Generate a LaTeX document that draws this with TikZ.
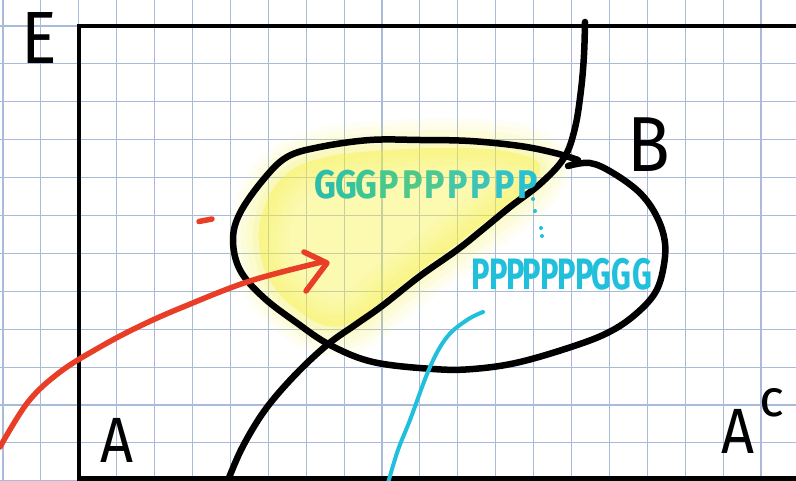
\documentclass[tikz,border=0pt]{standalone}
\usepackage{fontspec}
\setmainfont{Fira Sans}
\definecolor{gridc}{RGB}{170,187,218}
\definecolor{yel}{RGB}{248,240,50}
\definecolor{redc}{RGB}{232,62,40}
\definecolor{cyanc}{RGB}{32,192,220}
\definecolor{g1}{RGB}{44,190,170}
\definecolor{g2}{RGB}{52,194,160}
\definecolor{g3}{RGB}{60,198,150}
\definecolor{p1}{RGB}{72,200,140}
\definecolor{p2}{RGB}{80,200,136}
\definecolor{p3}{RGB}{76,200,150}
\definecolor{p4}{RGB}{68,198,168}
\definecolor{p5}{RGB}{60,196,184}
\definecolor{p6}{RGB}{50,194,200}
\definecolor{p7}{RGB}{42,192,212}
\begin{document}
\begin{tikzpicture}[x=1pt,y=-1pt,
  gridline/.style={gridc,line width=1.1pt},
  ink/.style={black,line width=6.5pt,line cap=round,line join=round},
  frame/.style={black,line width=4.5pt},
  redline/.style={redc,line width=5.5pt,line cap=round,line join=round},
  cyanline/.style={cyanc,line width=4pt,line cap=round},
  bigletter/.style={inner sep=0pt,text=black},
  glyph/.style={inner sep=0pt,anchor=base}]
\useasboundingbox (0,0) rectangle (796,481);
\fill[white] (0,0) rectangle (796,481);
% grid
\foreach \i in {0,...,20} \draw[gridline] ({3+37.9*\i},0) -- ({3+37.9*\i},481);
\foreach \j in {0,...,12} \draw[gridline] (0,{26+37.9*\j}) -- (796,{26+37.9*\j});
% yellow highlight (soft)
\def\yelpath{plot[smooth cycle,tension=0.7] coordinates {(262,215) (282,178) (322,158) (390,150) (460,148) (515,153) (540,166) (525,190) (495,214) (455,245) (418,272) (385,298) (358,320) (328,326) (297,310) (272,284) (260,252)}}
\foreach \w/\o in {60/0.05,48/0.06,36/0.07,24/0.08,12/0.1}
  \draw[yel,line width=\w pt,opacity=\o,line join=round] \yelpath;
\fill[yel,opacity=0.38] \yelpath;
% frame
\draw[frame] (800,26) -- (79,26) -- (79,478.5) -- (800,478.5);
% A boundary curve
\draw[ink] plot[smooth,tension=0.6] coordinates {(227,483) (242,448) (265,410) (295,375) (327,345) (355,325) (382,306) (420,276) (457,250) (482,230) (510,207) (540,184) (564,158) (575,128) (581,90) (584,55) (585,22)};
% B boundary
\draw[ink] plot[smooth,tension=0.6] coordinates {(578,160) (555,153) (520,146) (470,141) (420,140) (370,140) (320,147) (287,157) (263,180) (240,213) (233,240) (240,270) (263,297) (297,323) (330,345) (373,362) (433,369) (473,369) (520,362) (580,344) (613,330) (637,313) (655,293) (663,270) (665,243) (657,217) (640,193) (613,173) (590,163) (568,166)};
% red arrow
\draw[redline] plot[smooth,tension=0.6] coordinates {(0,447) (28,402) (60,372) (100,347) (140,326) (183,307) (250,281) (322,262)};
\draw[redline] (304,252) -- (327,263) -- (306,291);
\draw[redline] (199,221.5) -- (212,219);
% cyan line
\draw[cyanline] plot[smooth,tension=0.6] coordinates {(388,483) (398,450) (410,420) (430,367) (447,337) (467,320) (483,312)};
\foreach \p in {(533,199),(535,211),(541,228),(542,236)} \fill[cyanc] \p circle (2pt);
% top text GGGPPPPPPP
\foreach \ch/\x/\c [count=\k] in {G/325/g1,G/346/g2,G/366/g3,P/389/p1,P/413/p2,P/435/p3,P/458/p4,P/481/p5,P/505/p6,P/528/p7}
  \node[glyph,text=\c,font=\fontsize{40}{40}\selectfont\bfseries,xscale=0.85] (t\k) at (\x,199) {\ch};
% bottom text PPPPPPPGGG
\foreach \ch/\x [count=\k] in {P/481,P/499,P/516,P/532,P/550,P/567,P/585,G/601,G/621,G/642}
  \node[glyph,text=cyanc,font=\fontsize{44}{44}\selectfont\bfseries,xscale=0.7] (b\k) at (\x,290) {\ch};
% big letters
\node[bigletter,font=\fontsize{74}{74}\selectfont,xscale=0.9] (E) at (39,38) {E};
\node[bigletter,font=\fontsize{64}{64}\selectfont,xscale=0.9] (A) at (117,440) {A};
\node[bigletter,font=\fontsize{64}{64}\selectfont,xscale=0.9] (Ac) at (738,431) {A};
\node[bigletter,font=\fontsize{52}{52}\selectfont,anchor=base] (c) at (772,417) {c};
\node[bigletter,font=\fontsize{78}{78}\selectfont,xscale=0.9] (B) at (649,145) {B};
\end{tikzpicture}
\end{document}
